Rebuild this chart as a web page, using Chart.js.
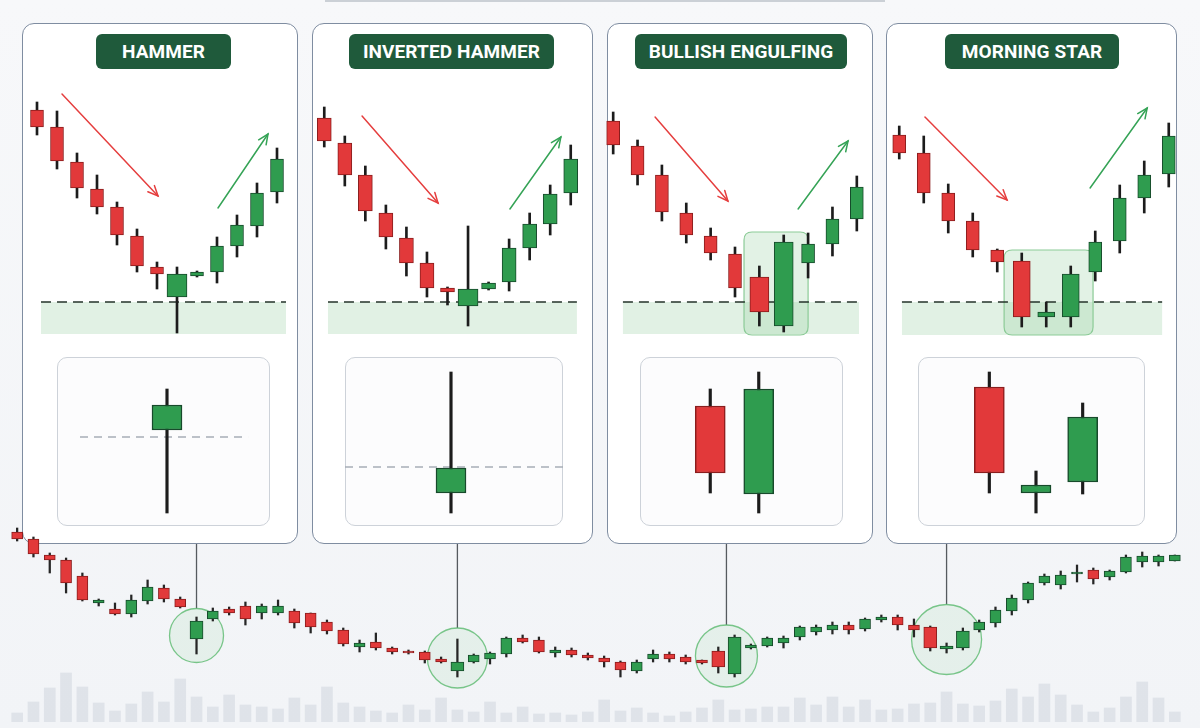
<!DOCTYPE html>
<html><head><meta charset="utf-8">
<script src="https://cdn.jsdelivr.net/npm/chart.js@4.4.1/dist/chart.umd.min.js"></script>
<style>
html,body{margin:0;padding:0;background:#f3f5f8;}
#stage{position:relative;width:1200px;height:728px;overflow:hidden;background:linear-gradient(#f7f8fa,#f2f4f7);font-family:Roboto,"Open Sans",sans-serif;}
.panel{position:absolute;top:23px;height:521px;background:#fff;border:1.5px solid #7f8da1;border-radius:12px;box-sizing:border-box;}
.badge{position:absolute;top:34px;height:35px;background:#1f5a3b;border-radius:6px;color:#fff;font-weight:700;font-size:19px;line-height:35px;text-align:center;letter-spacing:0.1px;}
.detail{position:absolute;top:357px;height:169px;border:1px solid #cdd2d9;border-radius:10px;background:#fcfcfd;box-sizing:border-box;}
canvas{position:absolute;}
.topline{position:absolute;left:325px;top:0;width:560px;height:2px;background:#cbd0d6;}
</style></head>
<body>
<div id="stage">
  <div class="topline"></div>
  <div class="panel" style="left:22px;width:276px"></div>
  <div class="panel" style="left:312px;width:281px"></div>
  <div class="panel" style="left:607px;width:266px"></div>
  <div class="panel" style="left:886px;width:291px"></div>
  <div class="badge" style="left:96px;width:135px">HAMMER</div>
  <div class="badge" style="left:349px;width:205px">INVERTED HAMMER</div>
  <div class="badge" style="left:635px;width:212px">BULLISH ENGULFING</div>
  <div class="badge" style="left:945px;width:174px">MORNING STAR</div>
  <div class="detail" style="left:57px;width:213px"></div>
  <div class="detail" style="left:345px;width:218px"></div>
  <div class="detail" style="left:640px;width:203px"></div>
  <div class="detail" style="left:918px;width:227px"></div>
  <canvas id="p1" width="260" height="265" style="left:27px;top:80px;width:260px;height:265px"></canvas>
  <canvas id="p2" width="267" height="265" style="left:314px;top:80px;width:267px;height:265px"></canvas>
  <canvas id="p3" width="268" height="265" style="left:601px;top:80px;width:268px;height:265px"></canvas>
  <canvas id="p4" width="294" height="265" style="left:887px;top:80px;width:294px;height:265px"></canvas>
  <canvas id="d1" width="213" height="169" style="left:57px;top:357px;width:213px;height:169px"></canvas>
  <canvas id="d2" width="218" height="169" style="left:345px;top:357px;width:218px;height:169px"></canvas>
  <canvas id="d3" width="203" height="169" style="left:640px;top:357px;width:203px;height:169px"></canvas>
  <canvas id="d4" width="227" height="169" style="left:918px;top:357px;width:227px;height:169px"></canvas>
  <canvas id="ov" width="1200" height="728" style="left:0;top:0;width:1200px;height:728px"></canvas>
</div>
<script>
// ---------- DATA ----------
// Panel 1: Hammer
const hammerOpen  = [290,273,238,211,193,164,133,103,124,128,154,174,208];
const hammerHigh  = [298,289,247,225,198,171,138,133,129,163,185,217,252];
const hammerLow   = [265,231,202,186,155,128,111, 67,123,117,143,163,197];
const hammerClose = [273,239,212,193,165,134,126,126,128,154,175,207,241];
// Panel 2: Inverted hammer
const invOpen  = [282,257,225,187,162,137,112, 94,111,118,152,176,207];
const invHigh  = [293,264,234,195,173,148,113,174,118,161,187,215,255];
const invLow   = [253,214,179,151,124,103, 95, 74,110,109,140,165,195];
const invClose = [259,225,189,163,137,112,108,111,117,152,176,206,241];
// Panel 3: Bullish engulfing
const engOpen  = [279,254,225,187,164,146,123, 74,137,156,181];
const engHigh  = [288,260,235,197,172,153,134,165,167,193,224];
const engLow   = [246,215,179,157,140,103, 74, 68,122,144,169];
const engClose = [255,225,188,165,147,112, 88,158,156,181,213];
// Panel 4: Morning star
const msOpen  = [265,247,207,179,150,139, 83, 83,128,159,202,226];
const msHigh  = [274,264,216,187,151,147, 98,134,169,215,239,277];
const msLow   = [241,197,167,143,128, 73, 73, 73,119,147,187,213];
const msClose = [247,207,179,150,138, 83, 88,126,158,202,225,264];
// Pattern candles (index) in each panel
const hammerPattern = [7];
const invPattern = [7];
const engPattern = [6,7];
const msPattern = [5,6,7];
// Support level / zone bottom in each panel
const supportLevels = [98,98,98,98];
const zoneBottoms = [66,66,66,65];

// Detail candles
const hammerDetailOpen=[170], hammerDetailHigh=[211], hammerDetailLow=[87], hammerDetailClose=[195];
const invDetailOpen=[107], invDetailHigh=[228], invDetailLow=[87], invDetailClose=[132];
const engDetailOpen=[194,106], engDetailHigh=[211,228], engDetailLow=[107,87], engDetailClose=[127,211];
const msDetailOpen=[213,107,118], msDetailHigh=[228,129,197], msDetailLow=[107,87,106], msDetailClose=[127,115,183];
const detailRefLevels = [163,133];

// Overview series
const overviewOpen  = [168,161,145,140,124,97,91,86,99,112,101,61,81,91,94,87,87,89,87,78,70,53,58,52,49,48,41,29,38,41,46,62,60,47,50,45,42,38,29,41,46,43,40,49,26,52,54,57,63,68,70,75,71,80,83,75,73,51,52,70,77,89,100,117,115,126,130,123,128,138,138,139];
const overviewHigh  = [172,163,147,142,127,101,97,105,120,115,103,83,92,93,98,96,100,91,87,80,72,60,67,53,50,49,43,61,46,48,63,65,63,53,52,47,44,39,40,50,48,45,40,53,65,56,63,64,74,75,78,78,82,85,85,81,74,57,72,80,93,105,118,126,129,135,132,130,145,148,145,145];
const overviewLow   = [159,143,127,107,99,94,85,83,96,98,92,46,79,85,75,81,85,72,67,66,54,48,50,46,46,37,37,23,37,36,43,57,47,43,43,40,33,23,27,38,38,36,36,27,23,51,53,52,60,65,66,66,69,78,70,63,49,47,50,68,73,85,97,115,111,118,116,120,127,133,134,139];
const overviewClose = [161,146,140,117,100,100,86,100,113,101,93,79,89,87,81,94,94,77,73,69,56,57,52,48,47,40,38,38,45,47,62,58,48,50,45,42,38,30,38,46,41,38,37,33,63,55,62,62,73,73,75,70,81,83,75,70,52,54,69,78,90,102,117,124,125,128,121,129,143,144,144,145];
const overviewVolume= [9,20,34,49,35,19,11,18,30,20,43,25,15,27,17,15,13,24,17,35,19,15,11,9,17,12,24,12,10,20,9,15,8,9,7,10,22,11,14,9,6,10,14,22,12,13,15,15,24,17,25,15,22,12,13,18,19,30,18,16,21,33,25,38,27,17,10,14,25,40,24,10];
const overviewPatterns = [[11],[27],[43,44],[56,57,58]];

// ---------- STYLE ----------
const RED='#e2393a', RED_EDGE='#8a1d1d', GREEN='#2f9c4f', GREEN_EDGE='#174a2b', WICK='#1c1c1c';
Chart.defaults.font.family = 'Roboto, sans-serif';

function labelsFor(arr, prefix){ return arr.map((_, i) => prefix + (i + 1)); }

function candleSets(O,H,L,C,pattern,sz){
  const up = O.map((o,i)=>C[i]>=o);
  const fill = up.map(u=>u?GREEN:RED);
  const edge = up.map(u=>u?GREEN_EDGE:RED_EDGE);
  const base = {type:'bar', grouped:false, borderSkipped:false, backgroundColor:fill, borderColor:edge, borderWidth:sz.border};
  return [
    Object.assign({}, base, {label:'body', data:O.map((o,i)=>pattern.includes(i)?null:[o,C[i]]), barThickness:sz.body, order:0}),
    Object.assign({}, base, {label:'pattern', data:O.map((o,i)=>pattern.includes(i)?[o,C[i]]:null), barThickness:sz.pattern, order:0}),
    {type:'bar', label:'wick', grouped:false, data:L.map((l,i)=>[l,H[i]]), backgroundColor:sz.wickColor||WICK, borderWidth:0, barThickness:sz.wick, order:1}
  ];
}

function rr(ctx,x,y,w,h,r){
  ctx.beginPath();
  ctx.moveTo(x+r,y); ctx.lineTo(x+w-r,y); ctx.quadraticCurveTo(x+w,y,x+w,y+r);
  ctx.lineTo(x+w,y+h-r); ctx.quadraticCurveTo(x+w,y+h,x+w-r,y+h);
  ctx.lineTo(x+r,y+h); ctx.quadraticCurveTo(x,y+h,x,y+h-r);
  ctx.lineTo(x,y+r); ctx.quadraticCurveTo(x,y,x+r,y); ctx.closePath();
}

function arrow(ctx,x0,y0,x1,y1,color){
  ctx.save();
  ctx.strokeStyle=color; ctx.lineWidth=1.5; ctx.lineCap='round';
  ctx.beginPath(); ctx.moveTo(x0,y0); ctx.lineTo(x1,y1); ctx.stroke();
  const a=Math.atan2(y1-y0,x1-x0), L=11, s=0.42;
  ctx.beginPath();
  ctx.moveTo(x1-L*Math.cos(a-s), y1-L*Math.sin(a-s)); ctx.lineTo(x1,y1);
  ctx.lineTo(x1-L*Math.cos(a+s), y1-L*Math.sin(a+s));
  ctx.stroke();
  ctx.restore();
}

const baseOpts = (ymin,ymax,pad)=>({
  responsive:false, animation:false, events:[],
  layout:{padding:pad},
  plugins:{legend:{display:false}, tooltip:{enabled:false}},
  scales:{x:{display:false}, y:{display:false, min:ymin, max:ymax}}
});

function panelChart(id,O,H,L,C,pattern,sz,cfg){
  new Chart(document.getElementById(id), {
    type:'bar',
    data:{labels:labelsFor(O,'C'), datasets:candleSets(O,H,L,C,pattern,sz)},
    options:baseOpts(55,320,0),
    plugins:[{
      id:'decor',
      beforeDatasetsDraw(chart){
        const {ctx, scales:{x,y}} = chart;
        const x0=x.getPixelForValue(cfg.zone[0]), x1=x.getPixelForValue(cfg.zone[1]);
        const ys=y.getPixelForValue(cfg.support), yb=y.getPixelForValue(cfg.zoneLow);
        ctx.save();
        ctx.fillStyle='#e1f1e4';
        ctx.fillRect(x0,ys,x1-x0,yb-ys);
        if(cfg.box){
          const bx0=x.getPixelForValue(cfg.box[0]), bx1=x.getPixelForValue(cfg.box[1]);
          const by0=y.getPixelForValue(cfg.box[2]), by1=y.getPixelForValue(cfg.box[3]);
          rr(ctx,bx0,by0,bx1-bx0,by1-by0,8);
          ctx.fillStyle='rgba(150,210,160,0.28)'; ctx.fill();
          ctx.strokeStyle='#8ccb97'; ctx.lineWidth=1.2; ctx.stroke();
        }
        ctx.setLineDash([10,6]); ctx.strokeStyle='#24332a'; ctx.lineWidth=1.6;
        ctx.beginPath(); ctx.moveTo(x0,ys); ctx.lineTo(x1,ys); ctx.stroke();
        ctx.restore();
      },
      afterDatasetsDraw(chart){
        const {ctx, scales:{x,y}} = chart;
        const a=cfg.down, b=cfg.up;
        arrow(ctx,x.getPixelForValue(a[0]),y.getPixelForValue(a[1]),x.getPixelForValue(a[2]),y.getPixelForValue(a[3]),'#e53e3e');
        arrow(ctx,x.getPixelForValue(b[0]),y.getPixelForValue(b[1]),x.getPixelForValue(b[2]),y.getPixelForValue(b[3]),'#35a356');
      }
    }]
  });
}

const panelSize = (body,pattern)=>({body, pattern, wick:2, border:1});
panelChart('p1',hammerOpen,hammerHigh,hammerLow,hammerClose,hammerPattern,panelSize(13,20),
  {support:supportLevels[0], zoneLow:zoneBottoms[0], zone:[0.2,12.45], down:[1.25,306,6.05,204], up:[9.05,192,11.55,266]});
panelChart('p2',invOpen,invHigh,invLow,invClose,invPattern,panelSize(14,20),
  {support:supportLevels[1], zoneLow:zoneBottoms[1], zone:[0.18,12.3], down:[1.84,284,5.54,197], up:[9.04,191,11.52,263]});
panelChart('p3',engOpen,engHigh,engLow,engClose,engPattern,panelSize(13,19),
  {support:supportLevels[2], zoneLow:zoneBottoms[2], zone:[0.4,10.09], box:[5.37,8.0,168,65], down:[1.72,283,4.71,199], up:[7.59,191,9.64,259]});
panelChart('p4',msOpen,msHigh,msLow,msClose,msPattern,panelSize(13,17),
  {support:supportLevels[3], zoneLow:zoneBottoms[3], zone:[0.11,10.73], box:[4.28,7.91,150,65], down:[1.05,283,4.4,200], up:[7.79,212,10.12,292]});

function detailChart(id,O,H,L,C,pad,ref){
  const sz={body:30, pattern:30, wick:2.5, border:1.5};
  new Chart(document.getElementById(id), {
    type:'bar',
    data:{labels:labelsFor(O,'K'), datasets:candleSets(O,H,L,C,[],sz)},
    options:baseOpts(74,243,pad),
    plugins:[{
      id:'ref',
      beforeDatasetsDraw(chart){
        if(!ref) return;
        const {ctx, scales:{y}} = chart, w=chart.width;
        const yy=y.getPixelForValue(ref.value);
        ctx.save(); ctx.setLineDash([8,6]); ctx.strokeStyle='#a7adb6'; ctx.lineWidth=1.5;
        ctx.beginPath(); ctx.moveTo(w*ref.from,yy); ctx.lineTo(w*ref.to,yy); ctx.stroke(); ctx.restore();
      }
    }]
  });
}
detailChart('d1',hammerDetailOpen,hammerDetailHigh,hammerDetailLow,hammerDetailClose,{left:80,right:73,top:0,bottom:0},{value:detailRefLevels[0],from:0.108,to:0.897});
detailChart('d2',invDetailOpen,invDetailHigh,invDetailLow,invDetailClose,{left:76,right:82,top:0,bottom:0},{value:detailRefLevels[1],from:0,to:1});
detailChart('d3',engDetailOpen,engDetailHigh,engDetailLow,engDetailClose,{left:46,right:60,top:0,bottom:0},null);
detailChart('d4',msDetailOpen,msDetailHigh,msDetailLow,msDetailClose,{left:48,right:39,top:0,bottom:0},null);

// Overview chart
(function(){
  const patIdx = overviewPatterns.flat();
  const sets = candleSets(overviewOpen,overviewHigh,overviewLow,overviewClose,patIdx,{body:11,pattern:13,wick:1.6,border:1,wickColor:'#262626'});
  sets.push({type:'bar', label:'volume', grouped:false, yAxisID:'yv', data:overviewVolume, backgroundColor:'rgba(208,214,222,0.55)', borderWidth:0, barThickness:11, order:3});
  const radii=[27,30,31,35];
  const panelBottom=544;
  const opts = baseOpts(-22,180,{left:9,right:17,top:520,bottom:6});
  opts.scales.yv = {display:false, min:0, max:202};
  new Chart(document.getElementById('ov'), {
    type:'bar',
    data:{labels:labelsFor(overviewOpen,'D'), datasets:sets},
    options:opts,
    plugins:[{
      id:'marks',
      beforeDatasetsDraw(chart){
        const {ctx, scales:{x,y}} = chart;
        ctx.save();
        overviewPatterns.forEach((g,k)=>{
          const cx = g.reduce((s,i)=>s+x.getPixelForValue(i),0)/g.length;
          const hi = Math.max(...g.map(i=>overviewHigh[i])), lo = Math.min(...g.map(i=>overviewLow[i]));
          const cy = y.getPixelForValue((hi+lo)/2), r = radii[k];
          ctx.strokeStyle='#555a5f'; ctx.lineWidth=1.3;
          ctx.beginPath(); ctx.moveTo(cx,panelBottom); ctx.lineTo(cx,cy-r); ctx.stroke();
          ctx.beginPath(); ctx.arc(cx,cy,r,0,Math.PI*2);
          ctx.fillStyle='rgba(140,210,150,0.13)'; ctx.fill();
          ctx.strokeStyle='rgba(90,185,110,0.8)'; ctx.lineWidth=1.3; ctx.stroke();
        });
        ctx.restore();
      }
    }]
  });
})();
</script>
</body></html>
